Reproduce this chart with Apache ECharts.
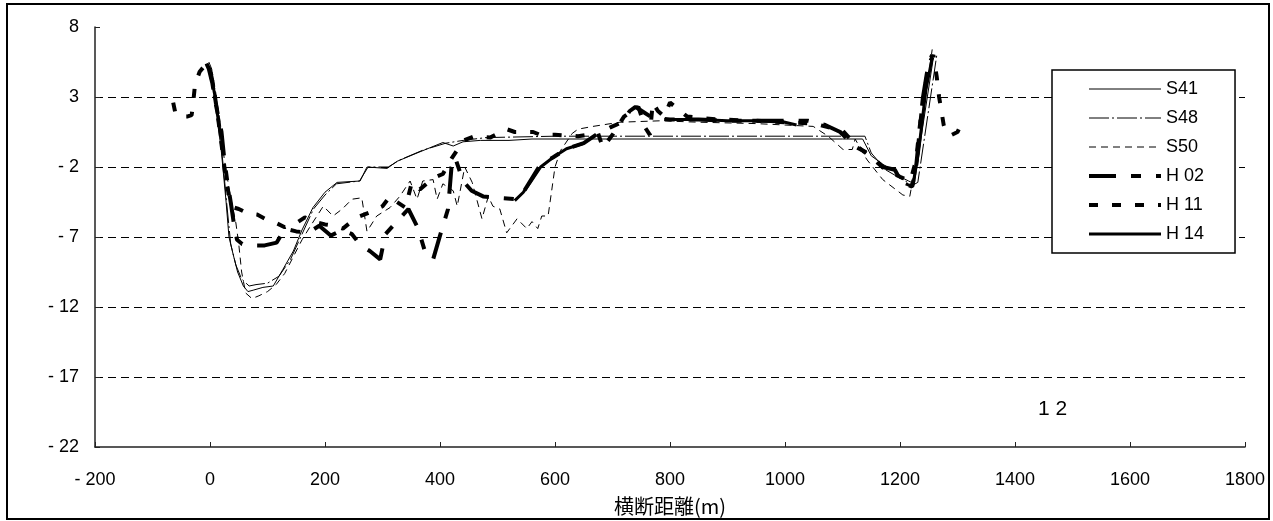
<!DOCTYPE html>
<html><head><meta charset="utf-8">
<script src="https://cdn.jsdelivr.net/npm/echarts@6/dist/echarts.min.js"></script>
<style>html,body{margin:0;padding:0;background:#fff}#c{width:1273px;height:521px}</style>
</head><body><div id="c"></div>
<script>
// ---- data ----
const xTicks = [-200, 0, 200, 400, 600, 800, 1000, 1200, 1400, 1600, 1800];
const yTicks = [-22, -17, -12, -7, -2, 3, 8];
const seriesNames = ['S41', 'S48', 'S50', 'H 02', 'H 11', 'H 14'];
const xTitle = '横断距離(m)';
const noteText = '1 2';

const s41 = [[-2,5.5],[3,5.0],[10,2.5],[20,-1.0],[28,-4.5],[33,-7.0],[40,-8.2],[48,-9.5],[58,-10.5],[66,-10.9],[75,-10.8],[92,-10.6],[110,-10.5],[127,-9.3],[145,-8.0],[160,-6.5],[179,-4.9],[200,-3.8],[221,-3.1],[261,-3.0],[273,-2.0],[308,-2.1],[325,-1.6],[360,-1.0],[405,-0.25],[423,-0.5],[440,-0.2],[470,-0.1],[520,-0.1],[560,0.0],[700,0.0],[900,0.0],[1100,0.0],[1135,0.0],[1150,-1.2],[1170,-1.8],[1190,-2.3],[1205,-2.8],[1215,-3.0],[1225,-3.2],[1240,1.0],[1258,5.8]];
const s48 = [[-3,5.3],[3,4.8],[12,2.0],[22,-1.5],[30,-5.0],[36,-7.5],[45,-9.0],[55,-10.0],[68,-10.5],[80,-10.4],[100,-10.3],[120,-9.8],[140,-8.6],[160,-6.8],[180,-5.0],[200,-4.0],[220,-3.2],[260,-3.0],[275,-2.0],[310,-2.0],[330,-1.5],[370,-0.8],[410,-0.3],[440,-0.1],[480,0.1],[600,0.2],[800,0.2],[1000,0.2],[1139,0.2],[1150,-1.0],[1175,-2.2],[1200,-2.8],[1222,-3.3],[1231,-3.1],[1264,6.0]];
const s50 = [[-2,5.0],[5,4.6],[15,2.0],[25,-1.5],[35,-4.0],[45,-6.0],[50,-7.5],[55,-9.5],[62,-11.0],[73,-11.4],[85,-11.2],[100,-10.9],[115,-10.4],[130,-9.6],[145,-8.4],[160,-7.2],[175,-6.2],[197,-4.8],[214,-5.5],[230,-5.0],[247,-4.3],[264,-4.2],[273,-6.6],[290,-5.5],[313,-4.9],[330,-4.1],[348,-3.0],[360,-4.3],[370,-3.0],[388,-2.9],[395,-4.3],[405,-3.2],[423,-3.7],[430,-4.8],[443,-2.0],[456,-3.1],[473,-5.7],[484,-4.1],[492,-4.8],[504,-5.0],[516,-6.7],[534,-5.7],[551,-6.4],[560,-5.9],[570,-6.4],[577,-5.5],[588,-5.5],[600,-2.0],[610,-0.8],[630,0.4],[640,0.7],[666,0.9],[713,1.2],[783,1.3],[850,1.2],[950,1.1],[1049,0.9],[1075,0.2],[1101,-0.75],[1117,-0.75],[1122,0.0],[1139,-1.25],[1143,-1.5],[1170,-2.9],[1205,-4.0],[1217,-4.1],[1230,-1.2],[1256,6.4]];
const h02 = [[-6,5.4],[-2,5.0],[4,4.0],[10,2.5],[15,1.5],[20,0.5],[25,-1.5],[30,-3.0],[36,-4.5],[42,-6.2],[47,-7.2],[56,-7.5],[73,-7.6],[95,-7.6],[116,-7.4],[130,-6.4],[150,-6.6],[171,-6.7],[190,-6.2],[210,-6.9],[230,-6.5],[247,-6.8],[262,-7.6],[278,-8.0],[296,-8.6],[305,-6.8],[325,-5.9],[345,-5.0],[362,-6.4],[375,-8.2],[388,-8.6],[400,-6.9],[414,-5.0],[420,-2.0],[426,-1.3],[440,-3.0],[455,-3.7],[475,-4.1],[500,-4.2],[534,-4.3],[545,-3.8],[557,-3.0],[575,-1.8],[597,-1.3],[620,-0.7],[650,-0.3],[675,0.4],[700,0.9],[717,1.2],[730,2.0],[740,2.3],[751,2.0],[770,1.5],[800,1.4],[850,1.4],[900,1.3],[950,1.3],[1000,1.3],[1040,1.3],[1070,1.0],[1096,0.5],[1120,-0.5],[1148,-1.1],[1170,-2.0],[1191,-2.2],[1203,-3.1],[1221,-3.4],[1228,-2.0],[1240,3.0],[1250,5.5],[1256,6.0]];
const h11 = [[-64,2.6],[-60,1.8],[-52,1.6],[-40,1.6],[-32,1.7],[-30,2.3],[-26,3.9],[-18,4.8],[-8,5.3],[0,5.0],[8,3.2],[15,1.2],[22,-1.0],[28,-3.0],[35,-4.4],[42,-4.9],[50,-5.0],[65,-5.3],[82,-5.4],[96,-5.7],[115,-6.0],[130,-6.3],[150,-6.0],[165,-5.6],[180,-5.9],[200,-6.1],[217,-6.2],[231,-6.4],[255,-5.6],[280,-5.2],[300,-4.8],[313,-4.1],[325,-4.5],[340,-4.9],[351,-3.1],[365,-3.6],[388,-2.8],[405,-2.5],[420,-1.4],[441,-0.1],[460,0.2],[487,0.1],[516,0.7],[530,0.5],[562,0.5],[574,0.3],[600,0.3],[640,0.2],[675,0.4],[683,-0.6],[700,0.3],[720,1.6],[745,2.3],[757,0.8],[765,0.3],[770,2.6],[779,2.0],[790,1.6],[800,2.6],[812,2.2],[830,1.6],[880,1.4],[950,1.3],[1000,1.2],[1050,1.1],[1100,0.6],[1125,-0.5],[1150,-1.3],[1175,-2.2],[1200,-2.7],[1218,-3.0],[1228,-1.5],[1240,3.0],[1252,5.5],[1258,6.0],[1264,4.4],[1268,3.0],[1272,2.0],[1276,1.0],[1280,0.4],[1290,0.3],[1300,0.5],[1306,1.0],[1312,1.6]];
const h14 = [[-6,5.3],[0,5.0],[8,3.2],[14,1.5],[18,0.2],[18,null],[530,-4.4],[545,-3.8],[557,-3.1],[575,-2.0],[597,-1.3],[620,-0.7],[650,-0.3],[650,null],[790,1.4],[850,1.4],[900,1.3],[950,1.3],[1000,1.2],[1020,1.0],[1020,null],[1210,-3.2],[1222,-3.4],[1232,-1.0],[1245,3.5],[1256,5.8]];

// ---- styles ----
const seriesData = [s41, s48, s50, h02, h11, h14];
const lineStyles = [
  {width: 1, type: 'solid'},
  {width: 1, type: [20, 3, 2, 3]},
  {width: 1, type: [7, 5]},
  {width: 4, type: [27, 15, 10, 15]},
  {width: 4, type: [9, 14]},
  {width: 3, type: 'solid'}
];

const font = 'Liberation Sans, Arial, sans-serif';
const chart = echarts.init(document.getElementById('c'), null, {renderer: 'canvas'});
const fmt = v => (v < 0 ? '- ' + (-v) : String(v));

chart.setOption({
  animation: false,
  backgroundColor: '#fff',
  grid: {left: 95, right: 28, top: 27, bottom: 72, containLabel: false},
  xAxis: {
    type: 'value', min: xTicks[0], max: xTicks[xTicks.length - 1], interval: 200,
    name: xTitle, nameLocation: 'middle', nameGap: 49,
    nameTextStyle: {fontSize: 20, color: '#000', fontFamily: 'Noto Sans CJK JP, sans-serif'},
    axisLine: {onZero: false, lineStyle: {color: '#222', width: 1.5}},
    axisTick: {inside: true, length: 5, lineStyle: {color: '#222', width: 1}},
    axisLabel: {fontSize: 18, color: '#000', fontFamily: font, margin: 24, formatter: fmt},
    splitLine: {show: false}
  },
  yAxis: {
    type: 'value', min: yTicks[0], max: yTicks[yTicks.length - 1],
    axisLine: {onZero: false, lineStyle: {color: '#222', width: 1.5}},
    axisTick: {show: true, inside: true, length: 5, customValues: yTicks, lineStyle: {color: '#222'}},
    axisLabel: {fontSize: 18, color: '#000', fontFamily: font, margin: 16, formatter: fmt, customValues: yTicks, padding: [8, 0, 0, 0]},
    splitLine: {show: true, showMinLine: false, showMaxLine: false, lineStyle: {color: '#000', width: 1, type: [8, 5]}}
  },
  legend: {
    orient: 'vertical', left: 1052, top: 70,
    data: seriesNames,
    selectedMode: false,
    itemWidth: 72, itemHeight: 14, itemGap: 11,
    padding: [10, 31, 10, 35],
    borderColor: '#000', borderWidth: 1.5, backgroundColor: '#fff',
    itemStyle: {color: 'rgba(0,0,0,0)', borderWidth: 0, opacity: 0},
    lineStyle: {width: 'inherit', type: 'inherit', color: 'inherit'},
    textStyle: {fontSize: 18, color: '#000', fontFamily: font, lineHeight: 18}
  },
  graphic: [
    {type: 'rect', shape: {x: 7, y: 4, width: 1262, height: 515}, style: {fill: 'none', stroke: '#000', lineWidth: 2}, silent: true, z: 100},
    {type: 'text', left: 1038, top: 399, style: {text: noteText, fontSize: 21, fill: '#000', fontFamily: font}}
  ],
  series: seriesNames.map((n, i) => ({
    name: n, type: 'line', data: seriesData[i], symbol: 'none', showSymbol: false,
    connectNulls: false, smooth: false,
    lineStyle: Object.assign({color: '#000'}, lineStyles[i]),
    itemStyle: {color: '#000'},
    z: i >= 3 ? 3 : 2
  }))
});
</script></body></html>
